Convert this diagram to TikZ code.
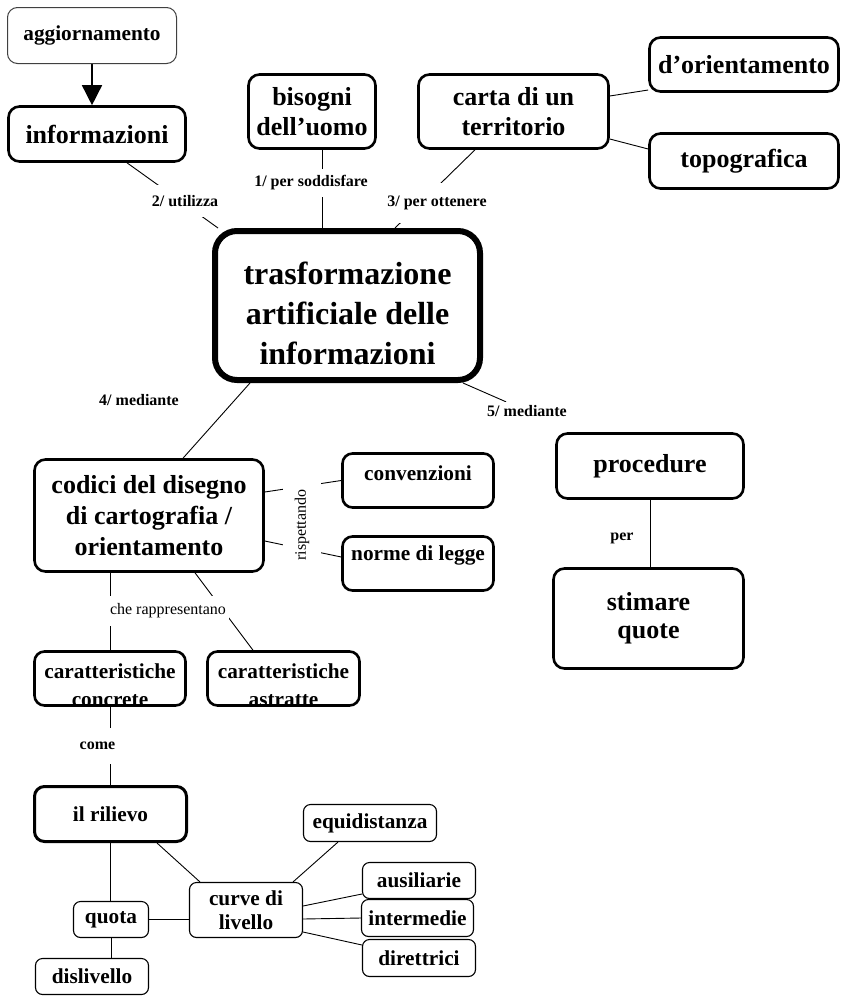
\documentclass[tikz,border=0pt]{standalone}
\usepackage{fontspec}
\setmainfont{Liberation Serif}
\usetikzlibrary{arrows.meta,backgrounds}
\tikzset{
  bx/.style={draw, fill=white, align=center, inner sep=2pt},
  big/.style={bx, line width=2.6pt, rounded corners=11pt, font=\bfseries\fontsize{26}{30}\selectfont},
  mid/.style={bx, line width=2.6pt, rounded corners=10pt, font=\bfseries\fontsize{21.3}{24}\selectfont},
  small/.style={bx, line width=1.1pt, rounded corners=7pt, font=\bfseries\fontsize{21.3}{24}\selectfont},
  sz/.style 2 args={minimum width=#1pt, minimum height=#2pt},
  lbl/.style={fill=white, font=\bfseries\fontsize{16}{19}\selectfont, inner xsep=3pt},
  lblr/.style={fill=white, font=\fontsize{16}{19}\selectfont},
  conn/.style={line width=0.9pt},
}
\begin{document}
\begin{tikzpicture}[x=1pt,y=-1pt]
\useasboundingbox (0,0) rectangle (842,996);
% concepts
\node[small, draw=black!75, line width=1pt, rounded corners=10pt, sz={169}{56}] (agg) at (92,35.5) {aggiornamento};
\node[big, sz={177}{55}] (inf) at (97,134) {informazioni};
\node[big, sz={127}{74}] (bis) at (312,111.5) {bisogni\\dell'uomo};
\node[big, sz={190}{74}] (carta) at (513.5,111.5) {carta di un\\territorio};
\node[big, sz={189}{54}] (dor) at (744,64.5) {d'orientamento};
\node[big, sz={189}{55}] (topo) at (744,161) {topografica};
\node[bx, line width=6pt, rounded corners=22pt, font=\bfseries\fontsize{32}{40}\selectfont, sz={265}{149}] (cen) at (347.5,305.5) {\rule{0pt}{38pt}trasformazione\\artificiale delle\\informazioni};
\node[big, font=\bfseries\fontsize{26}{31}\selectfont, sz={229}{112}] (cod) at (149,515.5) {codici del disegno\\di cartografia /\\orientamento};
\node[mid, sz={151}{54}] (conv) at (418,480.5) {convenzioni\rule[-15pt]{0pt}{15pt}};
\node[mid, sz={151}{54}] (norme) at (418,563.5) {norme di legge\rule[-21pt]{0pt}{21pt}};
\node[mid, sz={151}{54}] (conc) at (110,678.5) {\raisebox{0pt}[0pt][0pt]{\begin{tabular}[t]{@{}c@{}}caratteristiche\\[4pt]concrete\end{tabular}}};
\node[mid, sz={152}{54}] (ast) at (283.5,678.5) {\raisebox{0pt}[0pt][0pt]{\begin{tabular}[t]{@{}c@{}}caratteristiche\\[4pt]astratte\end{tabular}}};
\node[mid, line width=3pt, sz={152}{55}] (ril) at (110.5,814) {il rilievo};
\node[big, sz={187}{65}] (proc) at (650,466) {procedure};
\node[big, font=\bfseries\fontsize{26}{28}\selectfont, sz={190}{100}] (stim) at (648.5,618.5) {stimare\\quote};
\node[small, sz={133}{37}] (equi) at (370,823) {equidistanza};
\node[small, sz={113}{36}] (aus) at (419,880.5) {ausiliarie};
\node[small, sz={112}{37}] (int) at (417.5,918) {intermedie};
\node[small, sz={113}{37}] (dir) at (419,958) {direttrici};
\node[small, sz={113}{55}] (curve) at (246,910) {curve di\\livello};
\node[small, sz={75}{36}] (quota) at (111,919.5) {quota};
\node[small, sz={113}{36}] (disl) at (92,976.5) {dislivello};
% linking phrases
\node[lbl, inner ysep=10pt] (l2) at (185,201) {2/ utilizza};
\node[lbl, inner ysep=7pt] (l1) at (311,183) {1/ per soddisfare};
\node[lbl, inner ysep=13pt] (l3) at (437,203) {3/ per ottenere};
\node[lbl] (l4) at (139,400) {4/ mediante};
\node[lbl] (l5) at (527,411) {5/ mediante};
\node[lblr, rotate=90, inner xsep=6pt, inner ysep=12pt] (risp) at (302,525) {rispettando};
\node[lblr, inner ysep=8pt] (lche) at (168,611) {che rappresentano};
\node[lbl, inner ysep=14pt] (lcome) at (97.5,746) {come};
\node[lbl] (lper) at (622,538) {per};
% connectors
\begin{pgfonlayer}{background}
\draw[line width=1.5pt, -{Triangle[length=20pt,width=20pt]}] (agg.south) -- (agg.south |- inf.north);
\draw[conn] ([xshift=30pt]inf.south) -- ([xshift=6pt]cen.north west);
\draw[conn] ([xshift=10pt]bis.south) -- ([xshift=10pt]bis.south |- cen.north);
\draw[conn] ([xshift=-38.5pt]carta.south) -- ([xshift=47.5pt]cen.north);
\draw[conn] ([yshift=15.5pt]carta.east) -- ([yshift=-25.5pt]dor.west);
\draw[conn] ([yshift=-27.5pt]carta.east) -- ([yshift=12pt]topo.west);
\draw[conn] ([xshift=-97.5pt]cen.south) -- ([xshift=34pt]cod.north);
\draw[conn] ([xshift=-20pt]cen.south east) -- (l5);
\draw[conn] (proc.south) -- (proc.south |- stim.north);
\draw[conn] ([yshift=23.5pt]cod.east) -- (conv.west);
\draw[conn] ([yshift=-25.5pt]cod.east) -- ([yshift=6.5pt]norme.west);
\draw[conn] ([xshift=-39pt]cod.south) -- ([xshift=-39pt]cod.south |- conc.north);
\draw[conn] ([xshift=46pt]cod.south) -- ([xshift=-30.5pt]ast.north);
\draw[conn] (conc.south) -- (conc.south |- ril.north);
\draw[conn] (ril.south) -- (ril.south |- quota.north);
\draw[conn] ([xshift=46.5pt]ril.south) -- ([xshift=-46pt]curve.north);
\draw[conn] (quota.east) -- (quota.east -| curve.west);
\draw[conn] (quota.south) -- (quota.south |- disl.north);
\draw[conn] ([xshift=47pt]curve.north) -- ([xshift=-32pt]equi.south);
\draw[conn] ([yshift=4pt]curve.east) -- ([yshift=-13.5pt]aus.west);
\draw[conn] ([yshift=-9pt]curve.east) -- (int.west);
\draw[conn] ([yshift=-22pt]curve.east) -- ([yshift=13pt]dir.west);
\end{pgfonlayer}
\end{tikzpicture}
\end{document}
